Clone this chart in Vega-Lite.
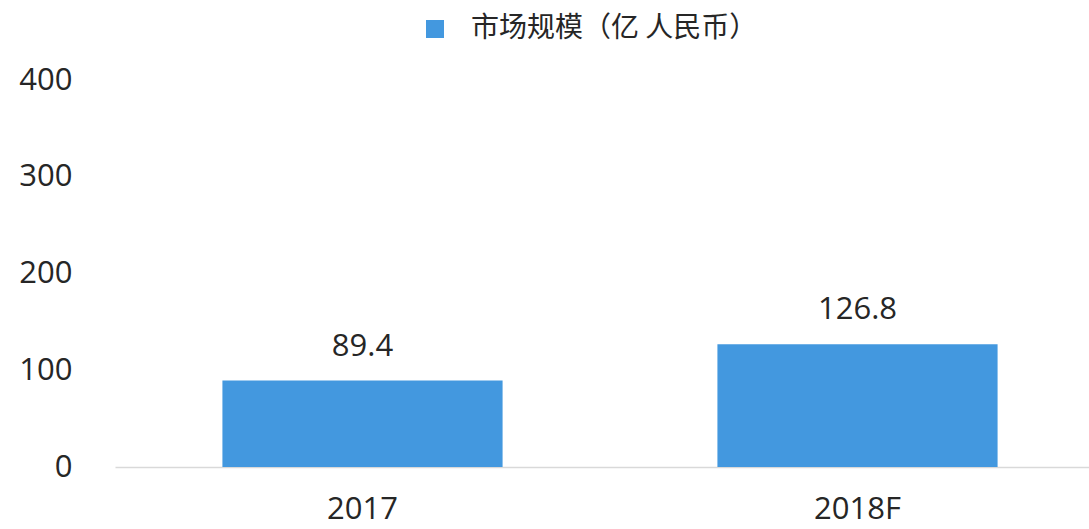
{
  "$schema": "https://vega.github.io/schema/vega-lite/v6.json",
  "autosize": "none",
  "width": 990,
  "height": 387,
  "padding": {"left": 115, "top": 80, "right": 0, "bottom": 62},
  "background": "white",
  "config": {
    "view": {"stroke": null},
    "font": "Noto Sans CJK SC",
    "text": {"font": "Open Sans"}
  },
  "data": {
    "values": [
      {"year": "2017", "value": 89.4, "series": "市场规模（亿 人民币）"},
      {"year": "2018F", "value": 126.8, "series": "市场规模（亿 人民币）"}
    ]
  },
  "encoding": {
    "x": {
      "field": "year",
      "type": "nominal",
      "sort": null,
      "scale": {"paddingInner": 0.434, "paddingOuter": 0.217},
      "axis": {
        "title": null,
        "labelAngle": 0,
        "labelFontSize": 31,
        "labelColor": "#262626",
        "labelFont": "Open Sans",
        "labelPadding": 27,
        "ticks": false,
        "domainColor": "#d9d9d9",
        "domainWidth": 1.5
      }
    },
    "y": {
      "field": "value",
      "type": "quantitative",
      "scale": {"domain": [0, 400]},
      "axis": {
        "title": null,
        "values": [0, 100, 200, 300, 400],
        "labelFontSize": 31,
        "labelColor": "#262626",
        "labelFont": "Open Sans",
        "labelPadding": 43,
        "ticks": false,
        "domain": false,
        "grid": false
      }
    }
  },
  "layer": [
    {
      "mark": {"type": "bar", "color": "#4398DF"},
      "encoding": {
        "color": {
          "field": "series",
          "type": "nominal",
          "scale": {"range": ["#4398DF"]},
          "legend": {
            "title": null,
            "orient": "none",
            "legendX": 306,
            "legendY": -65,
            "symbolType": "square",
            "symbolSize": 324,
            "symbolStrokeWidth": 0,
            "labelFontSize": 28,
            "labelColor": "#262626",
            "labelFont": "Noto Sans CJK SC",
            "labelOffset": 22,
            "labelLimit": 0
          }
        }
      }
    },
    {
      "mark": {"type": "text", "baseline": "alphabetic", "dy": -25, "fontSize": 31, "color": "#262626", "font": "Open Sans"},
      "encoding": {
        "text": {"field": "value", "type": "quantitative", "format": ".1f"}
      }
    }
  ]
}
